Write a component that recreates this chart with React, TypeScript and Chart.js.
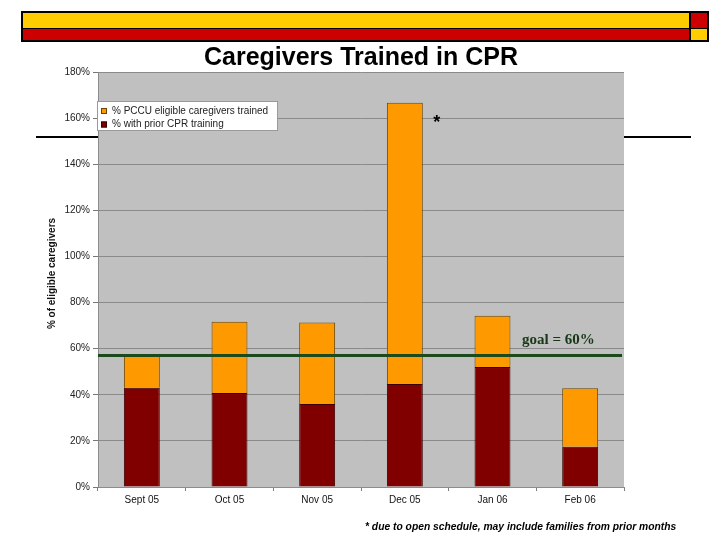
import { useEffect, useRef } from "react";
import { Chart, registerables } from "chart.js";

Chart.register(...registerables);

const categories = ["Sept 05", "Oct 05", "Nov 05", "Dec 05", "Jan 06", "Feb 06"];
const priorTraining = [43.1, 40.8, 36.0, 44.7, 52.0, 17.5];
const eligibleTrained = [13.9, 30.9, 35.4, 122.0, 22.3, 25.3];
const seriesLabels = ["% with prior CPR training", "% PCCU eligible caregivers trained"];
const yMin = 0;
const yMax = 180;
const yStep = 20;
const goalValue = 57;
const goalLabel = "goal = 60%";
const starIndex = 3;
const chartTitle = "Caregivers Trained in CPR";
const yAxisTitle = "% of eligible caregivers";
const footnote = "* due to open schedule, may include families from prior months";

const SANS = '"Liberation Sans", Arial, sans-serif';
const SERIF = '"Liberation Serif", "Times New Roman", serif';

const backgroundPlugin = {
  id: "plotBackground",
  beforeDraw(chart: any) {
    const { ctx, chartArea: a } = chart;
    ctx.save();
    ctx.fillStyle = "#C0C0C0";
    ctx.fillRect(a.left, a.top, a.right - a.left, a.bottom - a.top);
    ctx.restore();
  },
};

const overlayPlugin = {
  id: "overlay",
  afterDatasetsDraw(chart: any) {
    const { ctx, chartArea: a, scales } = chart;
    ctx.save();
    // goal line
    const gy = scales.y.getPixelForValue(goalValue);
    ctx.strokeStyle = "#1c4a1c";
    ctx.lineWidth = 3;
    ctx.beginPath();
    ctx.moveTo(a.left, gy);
    ctx.lineTo(a.right - 2, gy);
    ctx.stroke();
    ctx.fillStyle = "#163816";
    ctx.font = `bold 15px ${SERIF}`;
    ctx.textAlign = "left";
    ctx.textBaseline = "alphabetic";
    ctx.fillText(goalLabel, a.right - 102, gy - 12);
    // asterisk next to tall bar
    const el = chart.getDatasetMeta(1).data[starIndex];
    if (el) {
      ctx.fillStyle = "#000";
      ctx.font = `bold 18px ${SANS}`;
      ctx.textAlign = "center";
      ctx.fillText("*", el.x + el.width / 2 + 14, el.y + 25);
    }
    ctx.restore();
  },
  afterDraw(chart: any) {
    const { ctx, chartArea: a } = chart;
    ctx.save();
    // title
    ctx.fillStyle = "#000";
    ctx.font = `bold 25px ${SANS}`;
    ctx.textAlign = "center";
    ctx.textBaseline = "alphabetic";
    ctx.fillText(chartTitle, (a.left + a.right) / 2, a.top - 7);
    // legend
    const lx = a.left - 1;
    const ly = a.top + 29;
    const lw = 181;
    const lh = 30;
    ctx.fillStyle = "#fff";
    ctx.fillRect(lx, ly, lw, lh);
    ctx.strokeStyle = "#9a9a9a";
    ctx.lineWidth = 1;
    ctx.strokeRect(lx + 0.5, ly + 0.5, lw - 1, lh - 1);
    [1, 0].forEach((di, i) => {
      const ds = chart.data.datasets[di];
      const cy = ly + 10 + i * 13.5;
      ctx.fillStyle = ds.backgroundColor;
      ctx.fillRect(lx + 4, cy - 3, 6, 6);
      ctx.strokeStyle = ds.borderColor;
      ctx.strokeRect(lx + 4.5, cy - 2.5, 5, 5);
      ctx.fillStyle = "#222";
      ctx.font = `10px ${SANS}`;
      ctx.textAlign = "left";
      ctx.textBaseline = "middle";
      ctx.fillText(ds.label, lx + 15, cy);
    });
    // y axis title
    ctx.save();
    ctx.translate(52, (a.top + a.bottom) / 2 - 6);
    ctx.rotate(-Math.PI / 2);
    ctx.fillStyle = "#111";
    ctx.font = `bold 10px ${SANS}`;
    ctx.textAlign = "center";
    ctx.textBaseline = "middle";
    ctx.fillText(yAxisTitle, 0, 0);
    ctx.restore();
    // footnote
    ctx.fillStyle = "#000";
    ctx.font = `italic bold 10.3px ${SANS}`;
    ctx.textAlign = "left";
    ctx.textBaseline = "middle";
    ctx.fillText(footnote, 365, chart.height - 13);
    ctx.restore();
  },
};

export default function App() {
  const canvasRef = useRef<HTMLCanvasElement | null>(null);

  useEffect(() => {
    if (!canvasRef.current) return;
    const chart = new Chart(canvasRef.current, {
      type: "bar",
      data: {
        labels: categories,
        datasets: [
          {
            label: seriesLabels[0],
            data: priorTraining,
            backgroundColor: "#800000",
            borderColor: "#3a0000",
            borderWidth: 1,
            barPercentage: 0.41,
            categoryPercentage: 1,
          },
          {
            label: seriesLabels[1],
            data: eligibleTrained,
            backgroundColor: "#FF9900",
            borderColor: "#6a4500",
            borderWidth: 1,
            barPercentage: 0.41,
            categoryPercentage: 1,
          },
        ],
      },
      options: {
        responsive: false,
        animation: false,
        devicePixelRatio: 1,
        layout: { padding: { top: 72, right: 96, bottom: 28, left: 40 } },
        plugins: {
          legend: { display: false },
          title: { display: false },
          tooltip: { enabled: false },
        },
        scales: {
          x: {
            stacked: true,
            grid: {
              display: true,
              drawOnChartArea: false,
              drawTicks: true,
              tickLength: 4,
              color: "#808080",
              offset: true,
            },
            border: { display: true, color: "#8c8c8c" },
            ticks: {
              font: { family: SANS, size: 10 },
              color: "#111",
              padding: 3,
              maxRotation: 0,
              autoSkip: false,
            },
            afterFit: (s: any) => {
              s.height = 25;
            },
          },
          y: {
            stacked: true,
            min: yMin,
            max: yMax,
            ticks: {
              stepSize: yStep,
              callback: (v: any) => v + "%",
              font: { family: SANS, size: 10 },
              color: "#222",
              padding: 3,
            },
            grid: {
              color: "#8a8a8a",
              drawTicks: true,
              tickLength: 5,
              tickColor: "#777",
            },
            border: { display: true, color: "#8c8c8c" },
            title: { display: false },
            afterFit: (s: any) => {
              s.width = 58;
            },
          },
        },
      },
      plugins: [backgroundPlugin, overlayPlugin],
    });
    return () => chart.destroy();
  }, []);

  return (
    <div
      style={{
        position: "absolute",
        left: 0,
        top: 0,
        width: 720,
        height: 540,
        background: "#fff",
        overflow: "hidden",
      }}
    >
      {/* slide banner */}
      <div style={{ position: "absolute", left: 21, top: 11, width: 688, height: 31, background: "#000" }} />
      <div style={{ position: "absolute", left: 23, top: 13, width: 666, height: 15, background: "#FFCC00" }} />
      <div style={{ position: "absolute", left: 23, top: 29, width: 666, height: 11, background: "#CC0000" }} />
      <div style={{ position: "absolute", left: 691, top: 13, width: 16, height: 15, background: "#CC0000" }} />
      <div style={{ position: "absolute", left: 691, top: 29, width: 16, height: 11, background: "#FFCC00" }} />
      {/* slide rule line */}
      <div style={{ position: "absolute", left: 36, top: 136, width: 655, height: 2, background: "#000" }} />
      <canvas
        ref={canvasRef}
        width={720}
        height={540}
        style={{ position: "absolute", left: 0, top: 0, width: 720, height: 540 }}
      />
    </div>
  );
}
